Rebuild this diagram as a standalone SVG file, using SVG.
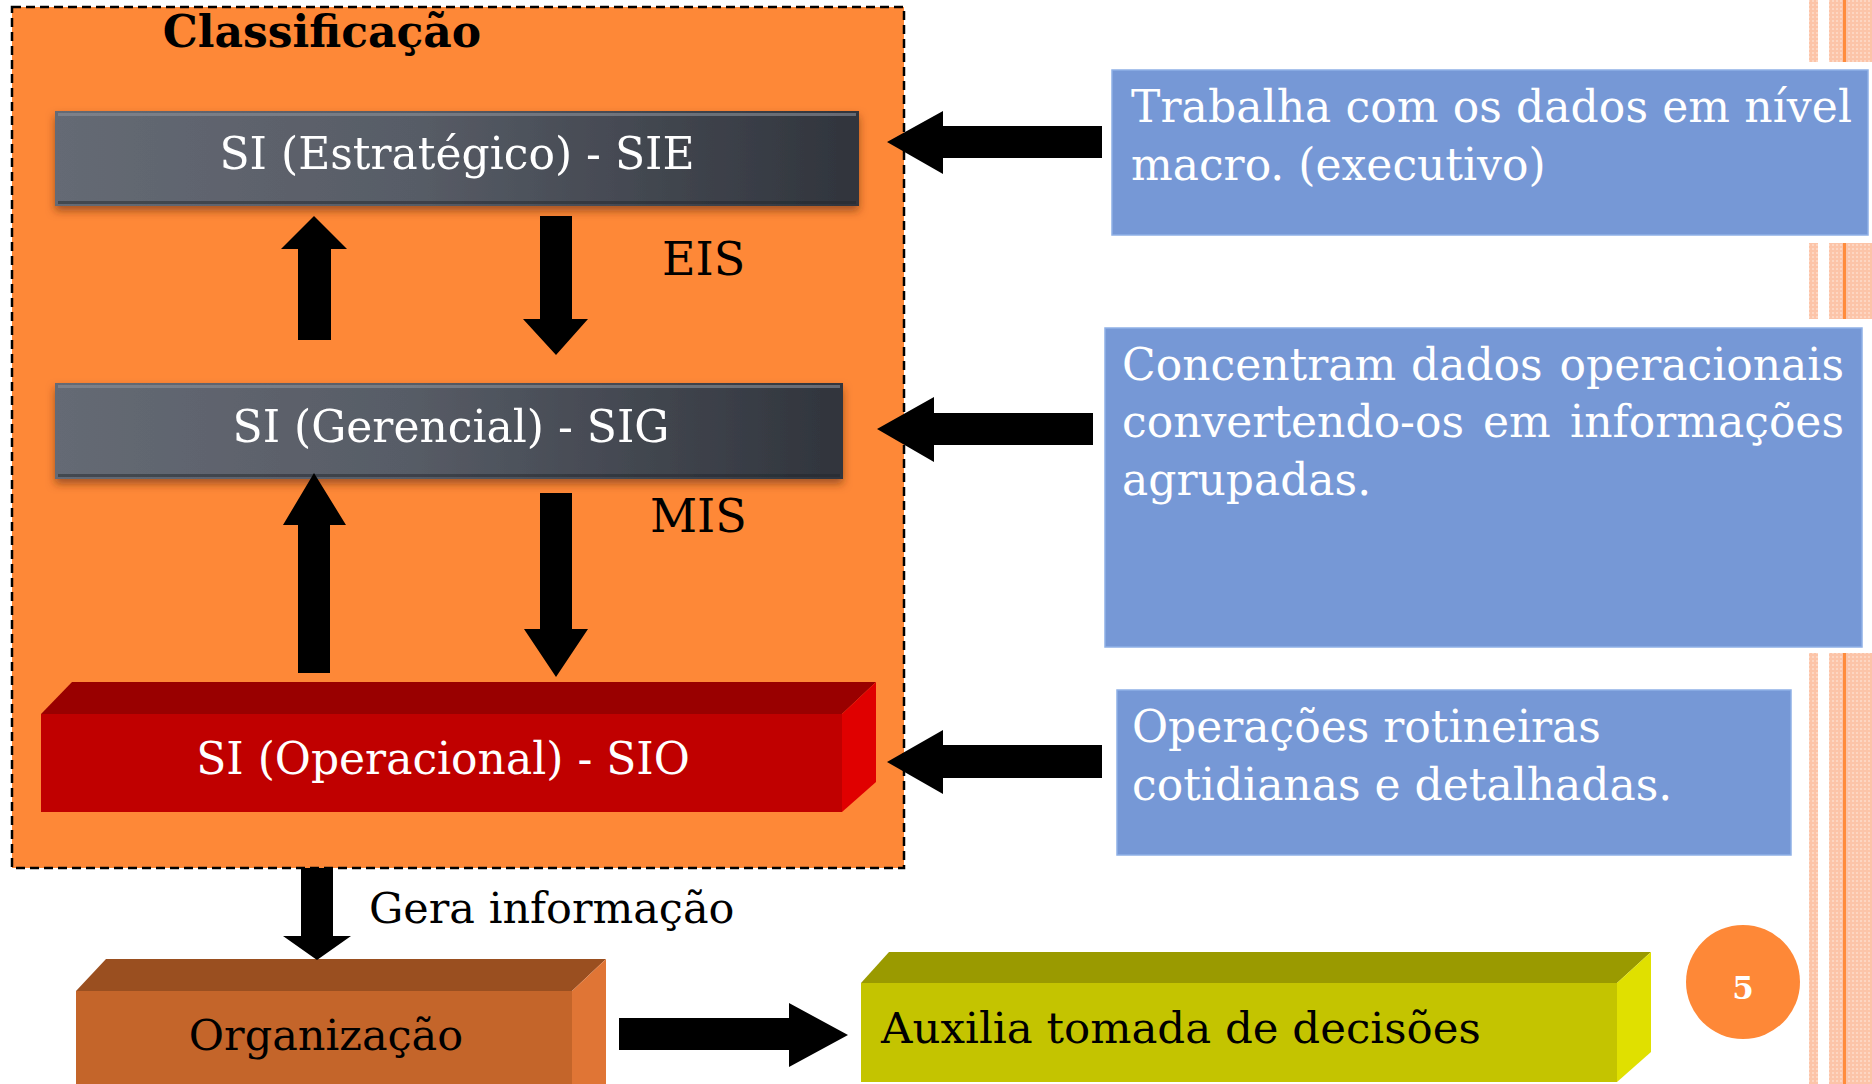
<svg xmlns="http://www.w3.org/2000/svg" width="1872" height="1084" viewBox="0 0 1872 1084">
<defs>
<linearGradient id="gray" x1="0" y1="0" x2="1" y2="0">
<stop offset="0" stop-color="#656a74"/>
<stop offset="0.45" stop-color="#575c66"/>
<stop offset="1" stop-color="#30343c"/>
</linearGradient>
<filter id="sh" x="-5%" y="-20%" width="110%" height="150%">
<feDropShadow dx="0" dy="5" stdDeviation="4" flood-color="#5a2a08" flood-opacity="0.55"/>
</filter>
<pattern id="dots" width="4" height="4" patternUnits="userSpaceOnUse">
<rect width="4" height="4" fill="#fcc4a8"/>
<rect width="2" height="2" fill="#fdd6c2"/>
</pattern>
</defs>
<style>
.t{font-family:"DejaVu Serif","Liberation Serif",serif;}
.w{fill:#ffffff;}
.k{fill:#000000;}
.blue{fill:#7698d6;stroke:#8fb0e6;stroke-width:1.5;}
</style>
<rect width="1872" height="1084" fill="#ffffff"/>
<g id="stripes">
<rect x="1809" y="0" width="9" height="1084" fill="url(#dots)"/>
<rect x="1829" y="0" width="43" height="1084" fill="url(#dots)"/>
<rect x="1843" y="0" width="3" height="1084" fill="#ff8c3c"/>
<rect x="1100" y="62" width="772" height="181" fill="#ffffff"/>
<rect x="1098" y="319" width="774" height="334" fill="#ffffff"/>
</g>
<g id="classificacao">
<rect x="12" y="7" width="892" height="861" fill="#fe8837" stroke="#000" stroke-width="2.5" stroke-dasharray="9,5"/>
<text class="t" x="322" y="47" font-size="44" font-weight="bold" text-anchor="middle">Classificação</text>
</g>
<g id="sie" filter="url(#sh)">
<rect x="55" y="111" width="804" height="95" fill="url(#gray)"/>
<rect x="58" y="113" width="798" height="3" fill="#8a8f98" opacity="0.6"/>
<rect x="58" y="201" width="798" height="3" fill="#22252b" opacity="0.5"/>
<text class="t w" x="457" y="169" font-size="44" text-anchor="middle">SI (Estratégico) - SIE</text>
</g>
<g id="sig" filter="url(#sh)">
<rect x="55" y="383" width="788" height="96" fill="url(#gray)"/>
<rect x="58" y="385" width="782" height="3" fill="#8a8f98" opacity="0.6"/>
<rect x="58" y="474" width="782" height="3" fill="#22252b" opacity="0.5"/>
<text class="t w" x="451" y="442" font-size="44" text-anchor="middle">SI (Gerencial) - SIG</text>
</g>
<g id="sio">
<polygon points="41,714 72,682 876,682 842,714" fill="#990000"/>
<polygon points="842,714 876,682 876,782 842,812" fill="#e00000"/>
<rect x="41" y="714" width="801" height="98" fill="#c00000"/>
<text class="t w" x="443" y="774" font-size="44" text-anchor="middle">SI (Operacional) - SIO</text>
</g>
<g id="organizacao">
<polygon points="76,991 106,959 606,959 572,991" fill="#9a4f20"/>
<polygon points="572,991 606,959 606,1084 572,1084" fill="#e07535"/>
<rect x="76" y="991" width="496" height="93" fill="#c4652a"/>
<text class="t k" x="326" y="1050" font-size="43" text-anchor="middle">Organização</text>
</g>
<g id="auxilia">
<polygon points="861,983 889,952 1651,952 1617,983" fill="#9a9a00"/>
<polygon points="1617,983 1651,952 1651,1052 1617,1082" fill="#e0e000"/>
<rect x="861" y="983" width="756" height="99" fill="#c4c400"/>
<text class="t k" x="881" y="1043" font-size="43.5">Auxilia tomada de decisões</text>
</g>
<g id="desc-sie">
<rect class="blue" x="1112" y="70" width="756" height="165"/>
<text class="t w" x="1131" y="122" font-size="44" textLength="721">Trabalha com os dados em nível</text>
<text class="t w" x="1131" y="180" font-size="44">macro. (executivo)</text>
</g>
<g id="desc-sig">
<rect class="blue" x="1105" y="328" width="757" height="319"/>
<text class="t w" x="1122" y="380" font-size="44">Concentram</text>
<text class="t w" x="1411" y="380" font-size="44">dados</text>
<text class="t w" x="1844" y="380" font-size="44" text-anchor="end">operacionais</text>
<text class="t w" x="1122" y="437" font-size="44">convertendo-os</text>
<text class="t w" x="1483" y="437" font-size="44">em</text>
<text class="t w" x="1844" y="437" font-size="44" text-anchor="end">informações</text>
<text class="t w" x="1122" y="495" font-size="44">agrupadas.</text>
</g>
<g id="desc-sio">
<rect class="blue" x="1117" y="690" width="674" height="165"/>
<text class="t w" x="1132" y="742" font-size="44">Operações rotineiras</text>
<text class="t w" x="1132" y="800" font-size="44">cotidianas e detalhadas.</text>
</g>
<g id="page">
<circle cx="1743" cy="982" r="57" fill="#fe8837"/>
<text class="t w" x="1743" y="999" font-size="31" font-weight="bold" text-anchor="middle">5</text>
</g>
<g id="connectors" fill="#000">
<polygon points="298,340 298,249 281,249 314,216 347,249 331,249 331,340"/>
<polygon points="540,216 572,216 572,319 588,319 556,355 523,319 540,319"/>
<polygon points="298,673 298,525 283,525 314,473 346,525 330,525 330,673"/>
<polygon points="540,493 572,493 572,629 588,629 556,677 524,629 540,629"/>
<polygon points="1102,126 943,126 943,111 887,142 943,174 943,158 1102,158"/>
<polygon points="1093,413 934,413 934,397 877,429 934,462 934,445 1093,445"/>
<polygon points="1102,745 943,745 943,730 887,762 943,794 943,778 1102,778"/>
<polygon points="301,868 333,868 333,936 351,936 317,960 283,936 301,936"/>
<polygon points="619,1018 789,1018 789,1003 848,1035 789,1067 789,1050 619,1050"/>
</g>
<g id="labels">
<text class="t k" x="662" y="275" font-size="46">EIS</text>
<text class="t k" x="650" y="532" font-size="46">MIS</text>
<text class="t k" x="369" y="923" font-size="43">Gera informação</text>
</g>
</svg>
